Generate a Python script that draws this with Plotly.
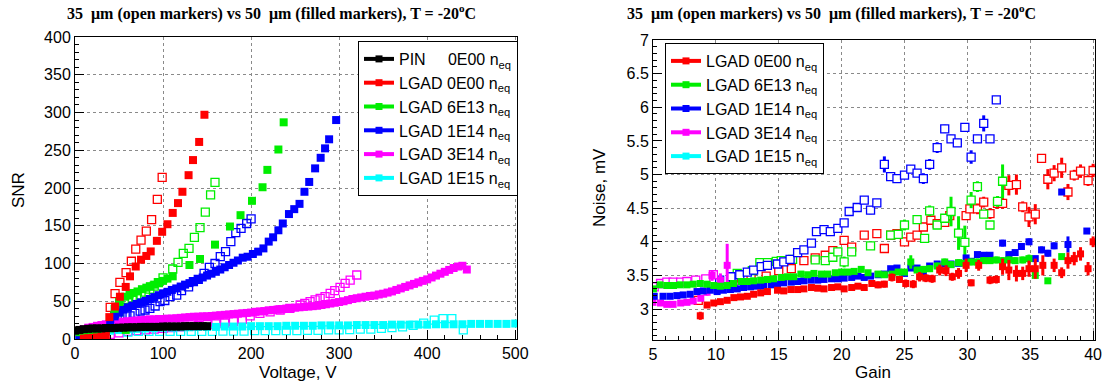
import plotly.graph_objects as go

W, H = 1107, 384

# ---------------- Left panel: SNR vs Voltage ----------------
pin_v = [0, 5, 10, 15, 20, 25, 30, 35, 40, 45, 50, 55, 60, 65, 70, 75, 80, 85, 90, 95,
         100, 105, 110, 115, 120, 125, 130, 135, 140, 145, 150]
pin_snr = [11, 12, 13, 13.5, 14, 14, 14, 14.5, 14.5, 14.5, 15, 15, 15.5, 15.5, 15.5, 16, 16, 16, 16, 16,
           16.5, 16.5, 16.5, 16.5, 16.5, 17, 17, 17, 17, 17, 17]

red50_v = [10, 15, 20, 25, 30, 35, 39, 45.5, 51, 57.6, 62.5, 69, 75, 81, 86, 93, 99, 105, 111, 117,
           122, 129, 134, 141, 147]
red50_snr = [0.5, 1, 1.5, 2, 3, 5, 29, 43, 56, 69, 83, 96, 105, 110, 116, 130, 142, 152, 167, 180,
             195, 217, 237, 261, 297]
red35_v = [40, 45.5, 51, 58, 64, 69, 75, 81, 87, 93.5, 99]
red35_snr = [42, 60, 75, 88, 103, 119, 131, 143, 158, 185, 214]

green50_v = [5, 10, 15, 20, 25, 30, 35, 40, 45, 50, 57, 57.6, 62, 66, 71, 76, 81, 85, 90, 95,
             100, 105, 111, 130, 142, 159, 176, 188, 201, 213, 218.5, 231, 237]
green50_snr = [9, 10, 11, 11, 12, 12, 12, 14, 40, 49, 56, 12, 59, 61, 63, 66, 68, 70, 72, 75,
               77, 80, 83, 98, 106, 125, 149, 164, 183, 201, 224, 251, 287]
green35_v = [45, 50, 55, 60, 65, 70, 75, 80, 85, 90, 94.7, 100, 111, 117, 123, 129.5, 135.6, 142, 148, 154, 159]
green35_snr = [30, 36, 42, 48, 52, 55, 58, 62, 66, 70, 74.6, 81, 92.7, 101.5, 113.5, 120, 134.7, 147.5, 168, 191, 207.5]

blue50_v = [5, 10, 15, 20, 25, 30, 35, 40, 45, 50, 55, 60, 65, 70, 75, 80, 85, 90, 95, 100,
            105, 110, 115, 120, 125, 130, 135, 140, 145, 150, 155, 160, 165, 170, 175, 180, 185, 190.5, 196, 202,
            208, 214, 220, 225, 231, 236, 243, 249, 255, 260.6, 266, 272.7, 279, 284, 288.6, 296.6]
blue50_snr = [1, 2, 3, 4, 5, 7, 10, 22, 30, 35, 39, 42, 44, 46.5, 48.5, 50.5, 53, 55.5, 58, 60.5,
              62.5, 65, 67, 69.5, 72, 74, 76.5, 79, 81.5, 84, 86.5, 89, 92, 95, 98, 101, 104, 107.7, 109, 112.6,
              115.7, 120, 129, 134.7, 144, 153, 165.5, 172, 179, 195, 208, 226, 240, 252.5, 264.5, 290]
blue35_v = [45, 51, 57, 62.5, 68, 74, 79.5, 85, 91, 96.6, 102, 108, 115.5, 121, 129, 134.5, 140, 146.6, 152.6, 159,
            165, 171, 177, 182.6, 188.6, 195, 200]
blue35_snr = [27, 29.6, 30.5, 30.5, 34, 37, 38.4, 40.6, 43.7, 49.5, 51, 56, 58, 64, 69, 76, 79, 87, 95, 100,
              109, 115.7, 129, 140.8, 146.6, 153, 159]

mag50_v = [0, 5, 10, 15, 20, 25, 30, 35, 40, 45, 50, 55, 60, 65, 70, 75, 80, 85, 90, 95,
           100, 105, 110, 115, 120, 125, 130, 135, 140, 145, 150, 155, 160, 165, 170, 175, 180, 185, 190, 195,
           200, 205, 210, 215, 220, 225, 230, 235, 240, 245, 250, 255, 260, 265, 270, 275, 280, 285, 290, 295,
           300, 305, 310, 315, 320, 325, 330, 335, 340, 345, 350, 355, 360, 365, 370, 375, 380, 385, 390, 395,
           400, 405, 410, 415, 420, 425, 430, 435, 440, 445]
mag50_snr = [8, 11, 13, 15, 16, 17.5, 18.5, 19.5, 20, 21, 22, 23, 23.5, 24, 24.5, 25, 25.5, 26, 26, 26.5,
             26.5, 27, 27, 27.5, 28, 28.5, 29, 29.5, 29.5, 30, 30, 30.5, 31, 31.5, 32, 32.5, 33, 33.5, 34, 34.5,
             35, 36, 36.5, 37, 38, 38.5, 39, 39.5, 40.3, 41, 41.5, 42, 42.6, 43, 43.5, 44, 45, 46, 47, 48,
             49, 50, 51.5, 53, 54, 55, 56, 57, 57.5, 59, 60, 61.5, 63, 65, 67, 69, 71, 73, 75, 77,
             79, 81.5, 84, 86.5, 89, 91.5, 94, 96, 97, 92]
mag35_v = [10, 20, 30, 40, 50, 60, 70, 80, 90, 100, 110, 120, 130, 140, 150, 160, 170, 180, 190, 199,
           210, 221.6, 233, 244, 255.7, 261, 267, 272.7, 278.4, 284, 289.8, 295, 301, 306.8, 312.5, 320]
mag35_snr = [2, 3, 4, 6, 8, 10, 11, 12, 13, 14, 15, 16, 17, 18, 19, 20, 21, 23, 26, 30.5,
             34, 36, 38.4, 40.6, 45, 47.3, 49.5, 51.7, 53.9, 56, 60.5, 64, 68.4, 73.7, 78, 84.8]

cyan50_v = [0, 10, 20, 30, 40, 50, 60, 70, 80, 90, 100, 110, 120, 130, 140, 150, 160, 170, 180, 190,
            200, 210, 220, 230, 240, 250, 260, 270, 280, 290, 300, 310, 320, 330, 340, 350, 360, 370, 380, 390,
            400, 410, 420, 430, 440, 450, 460, 470, 480, 490, 500]
cyan50_snr = [3, 6, 8, 10, 11, 12, 13, 13.5, 14, 14.5, 15, 15, 15.5, 15.5, 16, 16, 16, 16.5, 16.5, 16.5,
              17, 17, 17, 17, 17.5, 17.5, 17.5, 17.5, 18, 18, 18, 18, 18.5, 18.5, 18.5, 18.5, 19, 19, 19, 19,
              19, 19.5, 19.5, 19.5, 19.5, 20, 20, 20, 20, 20, 20.5]
cyan35_v = [60, 72, 84, 96, 108, 120, 132, 144, 156, 168, 180, 192, 204, 216, 228, 240, 252, 264, 276, 288,
            300, 312, 324, 336, 348, 360, 372, 384, 396, 408, 418, 428, 441]
cyan35_snr = [9, 10, 10, 10, 10, 10, 10, 10, 10, 10.5, 10.5, 10.5, 11, 11, 11, 11, 11, 11.5, 11.5, 12,
              12, 12.5, 13, 13, 14, 15, 16, 18, 21, 25, 27, 27, 12]

# ---------------- Right panel: Noise vs Gain ----------------
r_red50_g = [8.76, 9.3, 9.83, 10.36, 10.9, 11.43, 11.96, 12.5, 13.0, 13.56,
             14.1, 14.9, 15.4, 15.96, 16.5, 17.0, 17.6, 18.1, 18.6, 19.2,
             19.7, 20.2, 20.8, 21.3, 21.8, 22.4, 22.9, 23.4, 24.0, 24.6,
             25.1, 25.7, 26.2, 26.7, 27.2, 27.8, 28.3, 28.8, 29.3, 29.9,
             30.3, 30.9, 31.8, 32.3, 32.8, 33.3, 33.9, 34.4, 34.9, 35.4,
             36.0, 36.9, 37.5, 38.0, 38.5, 39.0, 39.6, 40.0]
r_red50_n = [2.90, 3.06, 3.09, 3.11, 3.13, 3.17, 3.18, 3.19, 3.22, 3.24,
             3.26, 3.28, 3.27, 3.29, 3.29, 3.30, 3.32, 3.31, 3.30, 3.32,
             3.33, 3.30, 3.32, 3.34, 3.32, 3.38, 3.36, 3.37, 3.47, 3.44,
             3.38, 3.37, 3.48, 3.46, 3.45, 3.58, 3.57, 3.48, 3.53, 3.65,
             3.39, 3.65, 3.43, 3.44, 3.63, 3.58, 3.53, 3.53, 3.60, 3.60,
             3.65, 3.65, 3.54, 3.72, 3.75, 3.82, 3.60, 4.00]
r_red50_e = [0.06, 0.03, 0.03, 0.03, 0.03, 0.03, 0.03, 0.03, 0.03, 0.03,
             0.03, 0.03, 0.03, 0.03, 0.03, 0.03, 0.03, 0.03, 0.03, 0.03,
             0.03, 0.03, 0.03, 0.03, 0.04, 0.05, 0.05, 0.05, 0.06, 0.05,
             0.06, 0.06, 0.07, 0.06, 0.06, 0.08, 0.08, 0.06, 0.08, 0.10,
             0.05, 0.08, 0.06, 0.06, 0.12, 0.15, 0.12, 0.10, 0.12, 0.15,
             0.15, 0.10, 0.08, 0.12, 0.10, 0.10, 0.10, 0.08]

r_red35_g = [8.6, 11.4, 12.8, 14.0, 15.0, 16.0, 17.0, 17.9, 18.7, 19.3,
             20.2, 20.8, 21.8, 22.8, 23.4, 23.9, 24.4, 25.0, 25.5, 26.0,
             26.5, 27.1, 27.6, 28.2, 28.6, 29.9, 30.2, 30.8, 31.3, 31.8,
             32.4, 32.8, 33.3, 33.9, 34.4, 34.9, 35.4, 35.9, 36.4, 36.9,
             37.5, 38.0, 38.5, 39.0, 39.6, 40.0]
r_red35_n = [3.13, 3.46, 3.48, 3.49, 3.57, 3.60, 3.72, 3.76, 3.80, 3.87,
             4.02, 3.92, 4.10, 4.12, 3.90, 4.10, 4.12, 4.00, 4.07, 4.10,
             4.22, 4.32, 4.27, 4.29, 4.39, 4.39, 4.49, 4.49, 4.59, 4.42,
             4.57, 4.57, 4.84, 4.85, 4.52, 4.37, 4.41, 5.24, 4.93, 5.02,
             5.10, 4.74, 4.99, 5.05, 4.91, 5.06]
r_red35_e = [0.03, 0.03, 0.03, 0.03, 0.03, 0.03, 0.03, 0.03, 0.03, 0.03,
             0.04, 0.04, 0.04, 0.04, 0.04, 0.05, 0.05, 0.05, 0.05, 0.05,
             0.06, 0.06, 0.06, 0.06, 0.08, 0.06, 0.06, 0.08, 0.08, 0.08,
             0.08, 0.08, 0.15, 0.15, 0.08, 0.15, 0.15, 0.05, 0.15, 0.12,
             0.15, 0.12, 0.08, 0.10, 0.08, 0.10]

r_green50_g = [5.03, 5.56, 6.1, 6.63, 7.16, 7.7, 8.2, 8.76, 9.3, 9.83,
               10.36, 10.9, 11.4, 12.0, 12.5, 13.0, 13.56, 14.1, 14.6, 15.2,
               15.7, 16.2, 16.76, 17.3, 17.8, 18.4, 18.9, 19.5, 20.0, 20.5,
               21.0, 21.56, 22.1, 22.9, 23.4, 24.0, 24.5, 25.0, 25.5, 26.0,
               26.5, 27.0, 27.6, 28.2, 28.7, 29.3, 29.8, 30.3, 30.8, 31.3,
               31.8, 32.3, 32.8, 33.3, 33.8, 34.4, 34.9, 35.4, 36.4, 37.5]
r_green50_n = [3.30, 3.36, 3.35, 3.35, 3.36, 3.36, 3.37, 3.38, 3.37, 3.35,
               3.34, 3.35, 3.38, 3.41, 3.41, 3.42, 3.43, 3.44, 3.45, 3.47,
               3.48, 3.48, 3.52, 3.51, 3.53, 3.52, 3.52, 3.54, 3.55, 3.55,
               3.56, 3.59, 3.54, 3.52, 3.51, 3.52, 3.55, 3.55, 3.70, 3.58,
               3.59, 3.60, 3.64, 3.70, 3.66, 3.69, 3.68, 3.70, 3.70, 3.72,
               3.72, 3.73, 3.72, 3.73, 3.72, 3.73, 3.75, 3.50, 3.42, 3.78]
r_green50_e = [0.03, 0.03, 0.03, 0.03, 0.03, 0.03, 0.03, 0.03, 0.03, 0.03,
               0.03, 0.03, 0.03, 0.03, 0.03, 0.03, 0.03, 0.03, 0.03, 0.03,
               0.03, 0.03, 0.03, 0.03, 0.03, 0.03, 0.03, 0.03, 0.03, 0.03,
               0.03, 0.03, 0.03, 0.03, 0.03, 0.03, 0.04, 0.04, 0.10, 0.04,
               0.04, 0.05, 0.05, 0.05, 0.05, 0.05, 0.05, 0.05, 0.05, 0.05,
               0.05, 0.05, 0.05, 0.05, 0.05, 0.05, 0.06, 0.04, 0.04, 0.04]

r_green35_g = [11.7, 12.9, 13.5, 14.1, 14.8, 15.2, 16.1, 17.9, 18.7, 19.3,
               19.7, 20.2, 20.8, 22.3, 23.9, 24.5, 25.0, 26.0, 26.6, 27.0,
               27.6, 28.2, 28.7, 29.3, 29.8, 30.3, 30.8, 31.3, 31.8, 32.4,
               32.8]
r_green35_n = [3.53, 3.57, 3.69, 3.69, 3.71, 3.72, 3.74, 3.73, 3.72, 3.77,
               3.85, 3.70, 3.85, 3.94, 4.10, 4.11, 4.25, 4.33, 4.05, 4.46,
               4.25, 4.35, 4.45, 4.13, 3.99, 4.62, 4.82, 4.41, 4.25, 4.60,
               4.90]
r_green35_e = [0.03, 0.03, 0.03, 0.03, 0.03, 0.03, 0.03, 0.03, 0.03, 0.03,
               0.04, 0.08, 0.04, 0.05, 0.05, 0.05, 0.08, 0.05, 0.05, 0.08,
               0.05, 0.05, 0.22, 0.25, 0.25, 0.12, 0.08, 0.05, 0.05, 0.08,
               0.25]

r_blue50_g = [5.1, 5.8, 6.36, 6.9, 7.4, 7.96, 8.5, 9.0, 9.56, 10.1,
              10.6, 11.16, 11.7, 12.2, 12.76, 13.3, 13.8, 14.4, 14.9, 15.4,
              16.0, 16.5, 17.0, 17.56, 18.1, 18.6, 19.2, 19.7, 20.2, 20.8,
              21.3, 21.8, 22.3, 22.9, 23.4, 23.9, 24.4, 25.0, 25.5, 26.0,
              26.5, 27.0, 27.6, 28.2, 28.7, 29.3, 29.9, 30.3, 30.8, 31.3,
              31.8, 32.8, 33.3, 33.8, 34.3, 34.9, 35.4, 35.9, 36.4, 36.9,
              37.5, 38.0, 39.5]
r_blue50_n = [3.19, 3.19, 3.19, 3.20, 3.21, 3.22, 3.26, 3.27, 3.28, 3.26,
              3.28, 3.29, 3.30, 3.32, 3.33, 3.34, 3.34, 3.36, 3.37, 3.39,
              3.40, 3.41, 3.42, 3.43, 3.43, 3.44, 3.45, 3.45, 3.46, 3.47,
              3.49, 3.47, 3.49, 3.51, 3.52, 3.60, 3.61, 3.53, 3.61, 3.61,
              3.54, 3.64, 3.67, 3.67, 3.67, 3.68, 3.76, 3.71, 3.81, 3.80,
              3.80, 3.98, 3.81, 3.84, 3.93, 4.00, 3.75, 3.88, 3.83, 3.94,
              4.74, 3.96, 4.16]
r_blue50_e = [0.03, 0.03, 0.03, 0.03, 0.03, 0.03, 0.03, 0.03, 0.03, 0.03,
              0.03, 0.03, 0.03, 0.03, 0.03, 0.03, 0.03, 0.03, 0.03, 0.03,
              0.03, 0.03, 0.03, 0.03, 0.03, 0.03, 0.03, 0.03, 0.03, 0.03,
              0.03, 0.03, 0.03, 0.03, 0.03, 0.03, 0.03, 0.03, 0.03, 0.03,
              0.03, 0.03, 0.03, 0.03, 0.03, 0.03, 0.03, 0.03, 0.03, 0.03,
              0.03, 0.05, 0.03, 0.03, 0.05, 0.05, 0.04, 0.05, 0.05, 0.05,
              0.03, 0.12, 0.04]

r_blue35_g = [10.3, 11.2, 11.9, 12.5, 13.0, 13.6, 14.1, 14.9, 15.4, 15.9,
              16.5, 17.0, 17.6, 18.0, 18.6, 19.1, 19.7, 20.2, 20.6, 21.24,
              21.8, 22.3, 22.8, 23.4, 23.9, 24.4, 25.0, 25.5, 26.0, 26.5,
              27.0, 27.6, 28.2, 28.7, 29.2, 29.8, 30.3, 30.8, 31.3, 31.8,
              32.3]
r_blue35_n = [3.43, 3.48, 3.51, 3.55, 3.58, 3.63, 3.65, 3.67, 3.70, 3.74,
              3.84, 3.88, 3.98, 4.15, 4.18, 4.15, 4.20, 4.28, 4.45, 4.51,
              4.62, 4.47, 4.58, 5.15, 4.97, 4.94, 4.99, 5.08, 5.02, 4.94,
              5.15, 5.40, 5.68, 5.53, 5.47, 5.70, 5.26, 5.53, 5.76, 5.53,
              6.11]
r_blue35_e = [0.03, 0.03, 0.03, 0.03, 0.03, 0.03, 0.03, 0.03, 0.03, 0.03,
              0.03, 0.03, 0.04, 0.05, 0.04, 0.04, 0.04, 0.05, 0.05, 0.05,
              0.05, 0.06, 0.05, 0.12, 0.05, 0.04, 0.05, 0.05, 0.05, 0.08,
              0.08, 0.08, 0.06, 0.06, 0.06, 0.06, 0.10, 0.06, 0.12, 0.06,
              0.04]

r_mag50_g = [5.0, 5.6, 6.1, 6.6, 7.2, 7.7, 8.2, 8.8, 9.3, 9.7, 10.36, 10.9, 11.5]
r_mag50_n = [3.10, 3.09, 3.07, 3.07, 3.09, 3.10, 3.12, 3.16, 3.25, 3.50, 3.43, 3.65, 3.33]
r_mag50_e = [0.03, 0.03, 0.03, 0.03, 0.03, 0.03, 0.03, 0.04, 0.05, 0.08, 0.10, 0.32, 0.05]

r_mag35_g = [5.1, 5.6, 6.1, 6.6, 7.2, 7.7, 8.4, 9.2, 9.8]
r_mag35_n = [3.33, 3.38, 3.40, 3.40, 3.40, 3.41, 3.43, 3.45, 3.51]
r_mag35_e = [0.03, 0.03, 0.03, 0.03, 0.03, 0.03, 0.03, 0.03, 0.03]

r_cyan_g = []
r_cyan_n = []

left_names = ["PIN\u00a0\u00a0\u00a0\u00a0\u00a00E00 n<sub>eq</sub>", "LGAD 0E00 n<sub>eq</sub>",
              "LGAD 6E13 n<sub>eq</sub>", "LGAD 1E14 n<sub>eq</sub>",
              "LGAD 3E14 n<sub>eq</sub>", "LGAD 1E15 n<sub>eq</sub>"]
right_names = ["LGAD 0E00 n<sub>eq</sub>", "LGAD 6E13 n<sub>eq</sub>", "LGAD 1E14 n<sub>eq</sub>",
               "LGAD 3E14 n<sub>eq</sub>", "LGAD 1E15 n<sub>eq</sub>"]

BLACK, RED, GREEN, BLUE, MAG, CYAN = "#000000", "#ff0000", "#00ee00", "#0000ff", "#ff00ff", "#00ffff"

fig = go.Figure()

# ---- left: open (35um) first, then filled (50um)
for xs, ys, c in [(red35_v, red35_snr, RED), (green35_v, green35_snr, GREEN),
                  (blue35_v, blue35_snr, BLUE), (mag35_v, mag35_snr, MAG),
                  (cyan35_v, cyan35_snr, CYAN)]:
    fig.add_trace(go.Scatter(x=xs, y=ys, mode="markers", xaxis="x", yaxis="y", showlegend=False,
                             marker=dict(symbol="square-open", size=8, color=c, line=dict(width=1.3, color=c))))
for xs, ys, c in [(cyan50_v, cyan50_snr, CYAN), (mag50_v, mag50_snr, MAG),
                  (blue50_v, blue50_snr, BLUE), (green50_v, green50_snr, GREEN),
                  (red50_v, red50_snr, RED), (pin_v, pin_snr, BLACK)]:
    fig.add_trace(go.Scatter(x=xs, y=ys, mode="markers", xaxis="x", yaxis="y", showlegend=False,
                             marker=dict(symbol="square", size=8, color=c, line=dict(width=0))))

# ---- right: open then filled, with error bars
for xs, ys, es, c in [(r_red35_g, r_red35_n, r_red35_e, RED), (r_green35_g, r_green35_n, r_green35_e, GREEN),
                      (r_blue35_g, r_blue35_n, r_blue35_e, BLUE), (r_mag35_g, r_mag35_n, r_mag35_e, MAG)]:
    fig.add_trace(go.Scatter(x=xs, y=ys, mode="markers", xaxis="x2", yaxis="y2", showlegend=False,
                             error_y=dict(type="data", array=es, visible=True, thickness=3, width=0, color=c),
                             marker=dict(symbol="square", size=8, color="white", line=dict(width=1.3, color=c))))
for xs, ys, es, c in [(r_mag50_g, r_mag50_n, r_mag50_e, MAG), (r_blue50_g, r_blue50_n, r_blue50_e, BLUE),
                      (r_green50_g, r_green50_n, r_green50_e, GREEN), (r_red50_g, r_red50_n, r_red50_e, RED)]:
    fig.add_trace(go.Scatter(x=xs, y=ys, mode="markers", xaxis="x2", yaxis="y2", showlegend=False,
                             error_y=dict(type="data", array=es, visible=True, thickness=3, width=0, color=c),
                             marker=dict(symbol="square", size=7, color=c, line=dict(width=0))))
fig.add_trace(go.Scatter(x=r_cyan_g, y=r_cyan_n, mode="markers", xaxis="x2", yaxis="y2", showlegend=False,
                         marker=dict(symbol="square", size=7, color=CYAN)))

# ---- legend entries
for name, c in zip(left_names, [BLACK, RED, GREEN, BLUE, MAG, CYAN]):
    fig.add_trace(go.Scatter(x=[None], y=[None], mode="lines+markers", name=name, xaxis="x", yaxis="y",
                             legend="legend", line=dict(color=c, width=4),
                             marker=dict(symbol="square", size=7, color=c)))
for name, c in zip(right_names, [RED, GREEN, BLUE, MAG, CYAN]):
    fig.add_trace(go.Scatter(x=[None], y=[None], mode="lines+markers", name=name, xaxis="x2", yaxis="y2",
                             legend="legend2", line=dict(color=c, width=4),
                             marker=dict(symbol="square", size=7, color=c)))

tickfont = dict(family="Liberation Sans, Arial, sans-serif", size=16, color="black")
common = dict(ticks="inside", ticklen=9, tickcolor="black", tickwidth=1, showline=True, linecolor="black",
              linewidth=1, mirror=True, showgrid=True, gridcolor="#8a8a8a", griddash="dot", gridwidth=1,
              zeroline=False, tickfont=tickfont, automargin=False)


def minor(d):
    return dict(dtick=d, ticks="inside", ticklen=4, tickcolor="black", showgrid=False)


legfont = dict(family="Liberation Sans, Arial, sans-serif", size=16, color="black")
fig.update_layout(
    width=W, height=H, margin=dict(l=0, r=0, t=0, b=0, autoexpand=False),
    paper_bgcolor="white", plot_bgcolor="white",
    xaxis=dict(domain=[75 / W, 517 / W], range=[0, 502], anchor="y", tick0=0, dtick=100, minor=minor(20), **common),
    yaxis=dict(domain=[1 - 339 / H, 1 - 37 / H], range=[0, 400], anchor="x", tick0=0, dtick=50, minor=minor(10), **common),
    xaxis2=dict(domain=[653 / W, 1095 / W], range=[5, 40.15], anchor="y2", tick0=5, dtick=5, minor=minor(1), **common),
    yaxis2=dict(domain=[1 - 340 / H, 1 - 40 / H], range=[2.54, 7.0], anchor="x2", tick0=0, dtick=0.5, minor=minor(0.1), **common),
    legend=dict(x=358 / W, y=1 - 41 / H, xanchor="left", yanchor="top", bordercolor="black", borderwidth=1,
                bgcolor="white", font=legfont, itemwidth=30),
    legend2=dict(x=665 / W, y=1 - 43 / H, xanchor="left", yanchor="top", bordercolor="black", borderwidth=1,
                 bgcolor="white", font=legfont, itemwidth=30),
    showlegend=True,
)

title_txt = "<b>35  \u03bcm (open markers) vs 50  \u03bcm (filled markers), T = -20<sup>o</sup>C</b>"
tfont = dict(family="Liberation Serif, Times New Roman, serif", size=16, color="black")
afont = dict(family="Liberation Sans, Arial, sans-serif", size=17, color="black")
fig.add_annotation(text=title_txt, x=271 / W, y=1 - 12 / H, xref="paper", yref="paper",
                   showarrow=False, font=tfont, xanchor="center", yanchor="middle")
fig.add_annotation(text=title_txt, x=831 / W, y=1 - 12 / H, xref="paper", yref="paper",
                   showarrow=False, font=tfont, xanchor="center", yanchor="middle")
fig.add_annotation(text="SNR", x=18 / W, y=1 - 190 / H, xref="paper", yref="paper", textangle=-90,
                   showarrow=False, font=afont, xanchor="center", yanchor="middle")
fig.add_annotation(text="Voltage, V", x=298 / W, y=1 - 372 / H, xref="paper", yref="paper",
                   showarrow=False, font=afont, xanchor="center", yanchor="middle")
fig.add_annotation(text="Noise, mV", x=600 / W, y=1 - 188 / H, xref="paper", yref="paper", textangle=-90,
                   showarrow=False, font=afont, xanchor="center", yanchor="middle")
fig.add_annotation(text="Gain", x=873 / W, y=1 - 372 / H, xref="paper", yref="paper",
                   showarrow=False, font=afont, xanchor="center", yanchor="middle")

fig.write_html("out.html")
